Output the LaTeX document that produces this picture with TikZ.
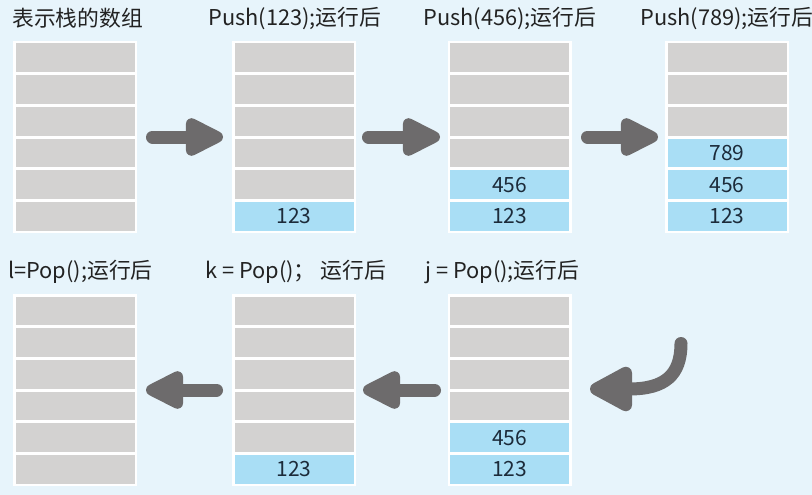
\documentclass[tikz,border=0pt]{standalone}
\usepackage{fontspec}
\setmainfont{Noto Sans CJK SC}
\usetikzlibrary{arrows.meta}
\definecolor{bgc}{HTML}{E7F4FB}
\definecolor{cellgray}{HTML}{D3D2D1}
\definecolor{cellblue}{HTML}{A9DEF5}
\definecolor{arrowc}{HTML}{6D6B6C}
\definecolor{txtc}{HTML}{222222}
\definecolor{numc}{HTML}{1C2B3A}
\begin{document}
\begin{tikzpicture}[x=1pt,y=-1pt,
  cellbase/.style={anchor=north west,inner sep=0pt,outer sep=0pt,minimum width=119pt,minimum height=28.8pt,font=\fontsize{21}{24}\selectfont,text=numc},
  cellg/.style={cellbase,fill=cellgray},
  cellb/.style={cellbase,fill=cellblue},
  lbl/.style={anchor=west,inner sep=0pt,font=\fontsize{21.8}{25}\selectfont,text=txtc},
  barrow/.style={draw=arrowc,line width=13pt,line cap=round,-{Triangle[length=45pt,width=41pt,round]}},
  carrow/.style={draw=arrowc,line width=13pt,line cap=round,-{Triangle[length=50pt,width=49pt,round]}}]
\fill[bgc] (0,0) rectangle (812,495);
\useasboundingbox (0,0) rectangle (812,495);
\foreach \n/\px/\py/\m in {A/15.5/43.5/0,B/234.5/43.5/1,C/450/43.5/2,D/667.5/43.5/3,E/15.5/296.5/0,F/234.5/296.5/1,G/450/296.5/2}{
  \fill[white] (\px-2.5,\py-2.5) rectangle ++(124,192.3);
  \foreach \k in {0,...,5}{
    \ifnum\k>\numexpr5-\m\relax
      \node[cellb] (\n\k) at (\px,\py+\k*31.7) {\ifcase\k\or\or\or 789\or 456\or 123\fi};
    \else
      \node[cellg] (\n\k) at (\px,\py+\k*31.7) {};
    \fi
  }
}
% labels
\node[lbl] (tA) at (12,18) {表示栈的数组};
\node[lbl] (tB) at (208,18) {Push(123);运行后};
\node[lbl] (tC) at (423,18) {Push(456);运行后};
\node[lbl] (tD) at (640,18) {Push(789);运行后};
\node[lbl] (tE) at (8,272) {l=Pop();运行后};
\node[lbl] (tF) at (205,272) {k = Pop()； 运行后};
\node[lbl] (tG) at (425,272) {j = Pop();运行后};
% arrows
\coordinate (a1s) at (152.5,137); \coordinate (a1e) at (223,137);
\coordinate (a2s) at (368.5,137); \coordinate (a2e) at (440,137);
\coordinate (a3s) at (587.5,137); \coordinate (a3e) at (658,137);
\coordinate (a4s) at (434.5,390); \coordinate (a4e) at (363,390);
\coordinate (a5s) at (216.5,390); \coordinate (a5e) at (146,390);
\coordinate (c1s) at (681,343.5); \coordinate (c1e) at (590,389);
\draw[barrow] (a1s) -- (a1e);
\draw[barrow] (a2s) -- (a2e);
\draw[barrow] (a3s) -- (a3e);
\draw[barrow] (a4s) -- (a4e);
\draw[barrow] (a5s) -- (a5e);
\draw[carrow] (c1s) .. controls (681,375) and (665,389) .. (c1e);
\end{tikzpicture}
\end{document}
